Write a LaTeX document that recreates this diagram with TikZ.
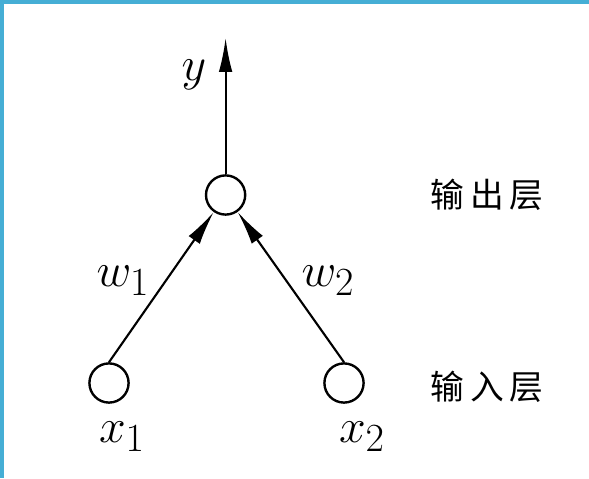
\documentclass[tikz,border=0pt]{standalone}
\usepackage{fontspec}
\usepackage{xcolor}
\newfontfamily\cjk{Noto Sans CJK SC}
\usetikzlibrary{arrows.meta}
\definecolor{frameblue}{HTML}{45AED5}

\begin{document}
\begin{tikzpicture}[
    neuron/.style={draw=black, circle, fill=white, minimum size=0.98cm,
                   inner sep=0pt, line width=1.7pt},
    arrow/.style={draw=black, line width=1.5pt,
                  -{Latex[length=0.85cm, width=0.34cm]}},
    mathlabel/.style={font=\Huge, inner sep=0pt, scale=1.37, transform shape},
    layerlabel/.style={font=\cjk\fontsize{24}{30}\selectfont, inner sep=0pt},
]
\useasboundingbox (0, 0) rectangle (14.725, 11.95);

% Marco azul
\fill[frameblue] (0, 11.85) rectangle (14.725, 11.95);
\fill[frameblue] (0, 0) rectangle (0.1, 11.95);

% Neuronas
\node[neuron] (out) at (5.64, 7.075) {};
\node[neuron] (in1) at (2.725, 2.375) {};
\node[neuron] (in2) at (8.6, 2.375) {};
\coordinate (ytip) at (5.64, 11.0);

% Flechas
\draw[arrow] (out.north) -- (ytip);
\draw[arrow] (in1.north) -- (out);
\draw[arrow] (in2.north) -- (out);

% Etiquetas
\node[mathlabel] (ylab)  at (4.85, 10.075) {$y$};
\node[mathlabel] (w1lab) at (3.075, 4.925) {$w_1$};
\node[mathlabel] (w2lab) at (8.2, 4.925)   {$w_2$};
\node[mathlabel] (x1lab) at (3.05, 1.025)  {$x_1$};
\node[mathlabel] (x2lab) at (9.05, 1.025)  {$x_2$};

% Capas
\node[layerlabel] (outlayer) at (12.175, 7.075) {输\,出\,层};
\node[layerlabel] (inlayer)  at (12.175, 2.275) {输\,入\,层};

\end{tikzpicture}
\end{document}
